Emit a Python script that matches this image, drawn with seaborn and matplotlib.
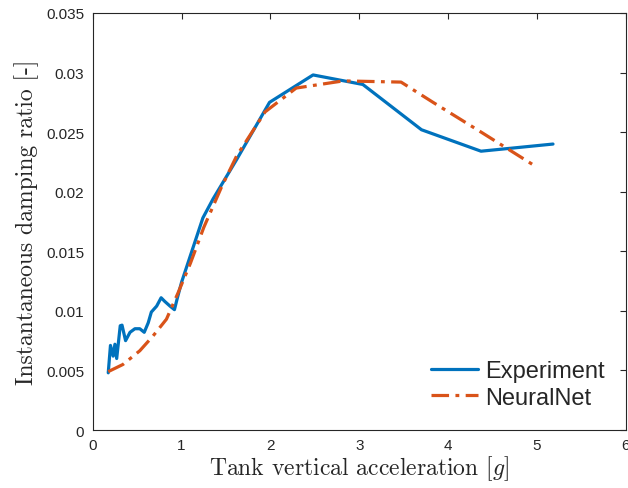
import matplotlib
matplotlib.use("Agg")
import matplotlib.pyplot as plt
import seaborn as sns
import pandas as pd

exp_x = [0.175, 0.20, 0.23, 0.25, 0.27, 0.31, 0.33, 0.37, 0.42, 0.475, 0.53, 0.58,
         0.625, 0.66, 0.72, 0.77, 0.81, 0.87, 0.92, 0.95, 1.0, 1.24, 1.355, 1.62,
         1.99, 2.48, 3.04, 3.70, 4.37, 5.18]
exp_y = [0.0048, 0.0071, 0.0062, 0.0072, 0.0060, 0.00875, 0.0088, 0.0075, 0.0082,
         0.0085, 0.0085, 0.0082, 0.0090, 0.0099, 0.0104, 0.0111, 0.0108, 0.0104,
         0.0101, 0.0110, 0.0124, 0.0178, 0.0194, 0.0227, 0.0275, 0.0298, 0.0290,
         0.0252, 0.0234, 0.0240]
nn_x = [0.175, 0.34, 0.53, 0.68, 0.83, 0.96, 1.10, 1.25, 1.45, 1.62, 1.94, 2.29,
        2.82, 3.47, 3.83, 4.35, 4.99]
nn_y = [0.0049, 0.0055, 0.00665, 0.0079, 0.0093, 0.0115, 0.0140, 0.0170, 0.0204,
        0.0230, 0.0267, 0.0287, 0.0293, 0.0292, 0.0275, 0.0251, 0.0221]

x_ticks = [0, 1, 2, 3, 4, 5, 6]
y_ticks = [0, 0.005, 0.01, 0.015, 0.02, 0.025, 0.03, 0.035]
y_tick_labels = ["0", "0.005", "0.01", "0.015", "0.02", "0.025", "0.03", "0.035"]

sns.set_style("white")
plt.rcParams["font.family"] = ["Liberation Sans", "DejaVu Sans"]
plt.rcParams["mathtext.fontset"] = "cm"

df_exp = pd.DataFrame({"x": exp_x, "y": exp_y})
df_nn = pd.DataFrame({"x": nn_x, "y": nn_y})

fig = plt.figure(figsize=(6.28, 4.89), dpi=100)
ax = fig.add_axes([0.1476, 0.1186, 0.849, 0.8528])

dash = (0, (5.5, 2.0, 1.2, 2.0))
sns.lineplot(data=df_exp, x="x", y="y", ax=ax, color="#0072BD", linewidth=2.3,
             estimator=None, sort=False, label="Experiment")
sns.lineplot(data=df_nn, x="x", y="y", ax=ax, color="#D95319", linewidth=2.3,
             estimator=None, sort=False, label="NeuralNet")
ax.lines[1].set_linestyle(dash)

ax.set_xlim(0, 6)
ax.set_ylim(0, 0.035)
ax.set_xticks(x_ticks)
ax.set_xticklabels([str(t) for t in x_ticks])
ax.set_yticks(y_ticks)
ax.set_yticklabels(y_tick_labels)
ax.tick_params(direction="in", length=4, width=0.8, labelsize=11, colors="#262626",
               top=True, right=True, labelcolor="#262626", pad=6)
for s in ax.spines.values():
    s.set_color("#262626")
    s.set_linewidth(0.8)

ax.set_xlabel(r"Tank vertical acceleration $[g]$", family="cmr10", fontsize=17,
              color="#262626", labelpad=1)
ax.set_ylabel("Instantaneous damping ratio [-]", family="cmr10", fontsize=17,
              color="#262626", labelpad=5)

leg = ax.legend(loc="lower right", frameon=False, fontsize=17, handlelength=2.0,
                borderaxespad=0.5, labelspacing=0.2, handletextpad=0.3)
for t in leg.get_texts():
    t.set_color("#262626")
leg.get_lines()[1].set_linestyle(dash)

fig.savefig("out.png", dpi=100)
